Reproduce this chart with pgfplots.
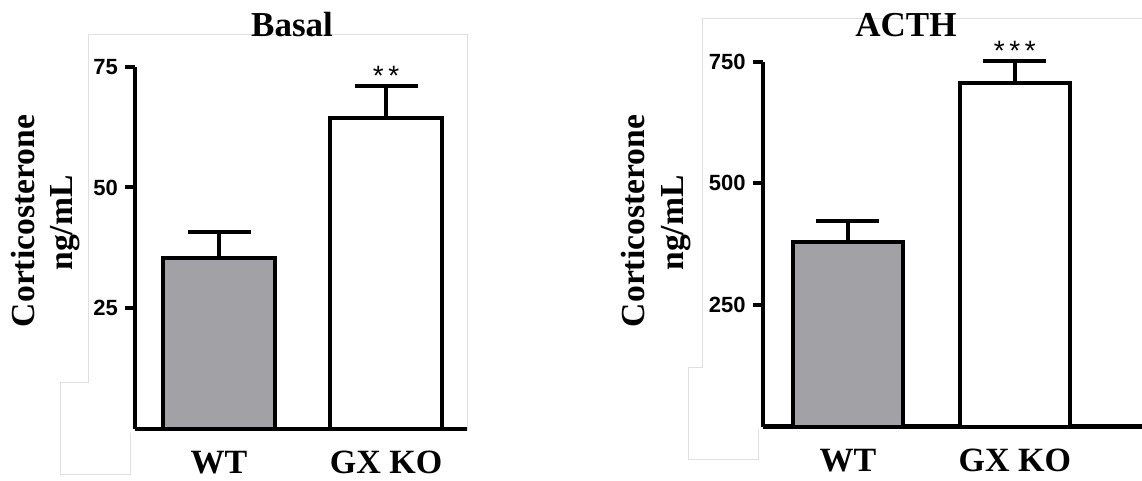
\documentclass[border=0pt]{standalone}
\usepackage{pgfplots}
\pgfplotsset{compat=1.18}
\usepackage{fontspec}
\setmainfont{Liberation Serif}
\newfontfamily\sansf{Liberation Sans}
\definecolor{bargray}{RGB}{161,161,166}
\pgfplotsset{
  corti/.style={
    scale only axis,
    axis x line=bottom, axis y line=left,
    axis line style={-, line width=2.2pt},
    ymin=0, clip=false,
    xtick={1,2}, xticklabels={WT, GX KO},
    x tick style={draw=none},
    ytick style={line width=2pt, black},
    major tick length=5pt,
    tick align=outside,
    xticklabel style={font=\fontsize{17}{17}\selectfont\bfseries, inner sep=0.5pt, yshift=-5.5pt},
    yticklabel style={font=\sansf\bfseries\fontsize{11}{11}\selectfont, xshift=0pt},
    /pgf/number format/assume math mode=true,
    ybar, bar shift=0pt,
    every axis plot/.append style={draw=black, line width=2pt},
    error bars/y dir=plus, error bars/y explicit,
    error bars/error bar style={line width=2pt, black},
    error bars/error mark options={line width=2pt, black, mark size=15.75pt, rotate=90},
  }
}
\begin{document}
\begin{tikzpicture}
\useasboundingbox (0,0) rectangle (571pt,240.5pt);
% faint background outlines
\begin{scope}[draw=black!12, line width=0.5pt]
\draw (233.5pt,25pt) -- (233.5pt,223pt) -- (44pt,223pt) -- (44pt,49pt) -- (30pt,49pt) -- (30pt,3pt) -- (65pt,3pt) -- (65pt,24pt);
\draw (571pt,231pt) -- (351pt,231pt) -- (351pt,56.5pt) -- (344pt,56.5pt) -- (344pt,10.5pt) -- (379pt,10.5pt) -- (379pt,26pt);
\end{scope}
% Basal
\begin{axis}[corti, at={(67.5pt,26pt)}, anchor=south west,
  width=166pt, height=181.15pt,
  xmin=0.497, xmax=2.485, ymax=75,
  ytick={25,50,75}, bar width=0.67]
\addplot[fill=bargray, draw=black, line width=2pt] coordinates {(1,35.3) +- (0,5.5)};
\addplot[fill=white, draw=black, line width=2pt] coordinates {(2,64.3) +- (0,6.7)};
\node[font=\sansf\fontsize{14}{14}\selectfont] at (axis cs:2,73.2) {*\,*};
\end{axis}
% ACTH
\begin{axis}[corti, at={(381.35pt,27.15pt)}, anchor=south west,
  width=189.5pt, height=182.5pt,
  xmin=0.49, xmax=2.76, ymax=750,
  ytick={250,500,750}, bar width=0.66]
\addplot[fill=bargray, draw=black, line width=2pt] coordinates {(1,380) +- (0,43)};
\addplot[fill=white, draw=black, line width=2pt] coordinates {(2,707) +- (0,44)};
\node[font=\sansf\fontsize{14}{14}\selectfont] at (axis cs:2,772) {*\,*\,*};
\end{axis}
% titles
\node[font=\fontsize{17.5}{17.5}\selectfont\bfseries] at (146pt,228pt) {Basal};
\node[font=\fontsize{17.5}{17.5}\selectfont\bfseries] at (453pt,228pt) {ACTH};
% y labels
\node[rotate=90, font=\fontsize{16.8}{16.8}\selectfont\bfseries] at (11.5pt,130pt) {Corticosterone};
\node[rotate=90, font=\fontsize{16.8}{16.8}\selectfont\bfseries] at (32.5pt,129pt) {ng/mL};
\node[rotate=90, font=\fontsize{16.8}{16.8}\selectfont\bfseries] at (316.5pt,130pt) {Corticosterone};
\node[rotate=90, font=\fontsize{16.8}{16.8}\selectfont\bfseries] at (338pt,129pt) {ng/mL};
\end{tikzpicture}
\end{document}
